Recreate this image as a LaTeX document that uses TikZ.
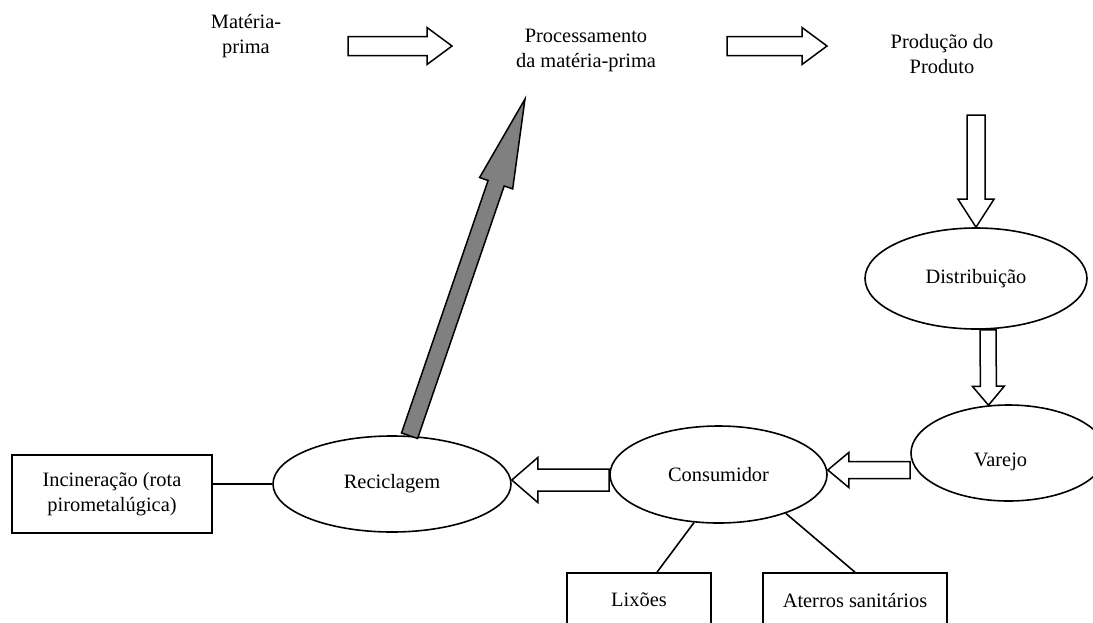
\documentclass[tikz,border=0pt]{standalone}
\usepackage{fontspec}
\setmainfont{Liberation Serif}
\usetikzlibrary{calc,shapes.geometric}

% hollow block arrow between two points
\newcommand{\blockarrow}[3][]{%
  \draw[blockarr,#1] let \p1=(#2), \p2=(#3),
    \n1={atan2(\y2-\y1,\x2-\x1)}, \n2={veclen(\x2-\x1,\y2-\y1)-\headlen} in
    ($(\p1)+(\n1+90:\bodyhalf)$) -- ($(\p1)+(\n1:\n2)+(\n1+90:\bodyhalf)$)
    -- ($(\p1)+(\n1:\n2)+(\n1+90:\headhalf)$) -- (\p2)
    -- ($(\p1)+(\n1:\n2)+(\n1-90:\headhalf)$)
    -- ($(\p1)+(\n1:\n2)+(\n1-90:\bodyhalf)$)
    -- ($(\p1)+(\n1-90:\bodyhalf)$) -- cycle;}

\begin{document}
\begin{tikzpicture}[x=0.5pt,y=-0.5pt,line width=0.8pt,
  font=\fontsize{10.2}{12.5}\selectfont,
  body half/.store in=\bodyhalf, head half/.store in=\headhalf,
  head len/.store in=\headlen,
  body half=4.75pt, head half=9.25pt, head len=12.5pt,
  blockarr/.style={draw,line width=0.75pt,fill=white,line join=miter},
  grayarr/.style={blockarr,fill=gray,body half=4.25pt,head half=8.75pt,head len=44.5pt},
  elli/.style={draw,ellipse,inner sep=0pt},
  boxed/.style={draw,rectangle,inner sep=0pt,align=center},
  plain/.style={align=center}]
\useasboundingbox (0,0) rectangle (1093,622);
\clip (0,0) rectangle (1093,622);
% top row
\node[plain] (mp) at (246,36) {Matéria-\\prima};
\node[plain] (proc) at (586,50) {Processamento\\da matéria-prima};
\node[plain] (prod) at (942,54) {Produção do\\Produto};
\coordinate (mpout) at (348,46);
\coordinate (procin) at (452,46);
\coordinate (procout) at (727,46);
\coordinate (prodin) at (827,46);
\coordinate (prodout) at (976,115);
\coordinate (back) at (525,99);
% ellipses
\node[elli,minimum width=111pt,minimum height=50.5pt] (dist) at (976,278.5) {Distribuição};
\node[elli,minimum width=97.5pt,minimum height=48pt,
  label={[xshift=-4pt,yshift=-4.5pt]center:Varejo}] (varejo) at (1008.5,453) {};
\node[elli,minimum width=108.5pt,minimum height=48.5pt] (cons) at (718.5,474.5) {Consumidor};
\node[elli,minimum width=119pt,minimum height=48pt] (recic) at (392,484) {Reciclagem};
% boxes
\node[boxed,minimum width=100pt,minimum height=39pt] (incin) at (112,494)
  {Incineração (rota\\pirometalúgica)};
\node[boxed,minimum width=72pt,minimum height=27pt] (lix) at (639,600) {Lixões};
\node[boxed,minimum width=92pt,minimum height=27pt] (ater) at (855,600) {Aterros sanitários};
% plain links
\draw (recic.west) -- (recic.west -| incin.east);
\draw (cons.-117) -- ($(lix.north)+(18,0)$);
\draw (cons.-30) -- (ater.north);
% block arrows
\blockarrow{mpout}{procin}
\blockarrow{procout}{prodin}
\blockarrow[body half=4.5pt,head half=9pt,head len=14pt]{prodout}{dist.north}
\blockarrow[body half=4pt,head half=8pt,head len=9.5pt]{$(dist.south)+(12,0)$}{$(varejo.north)+(-20,1)$}
\coordinate (tipcons) at ($(cons.east)+(0,-4.5)$);
\blockarrow[body half=4.25pt,head half=8.75pt,head len=10.5pt]{varejo.west |- tipcons}{tipcons}
\coordinate (tiprecic) at ($(recic.east)+(0,-4)$);
\blockarrow[body half=5.5pt,head half=11.25pt,head len=13pt]{cons.west |- tiprecic}{tiprecic}
% return to processing
\blockarrow[grayarr]{recic.70}{back}
\end{tikzpicture}
\end{document}
